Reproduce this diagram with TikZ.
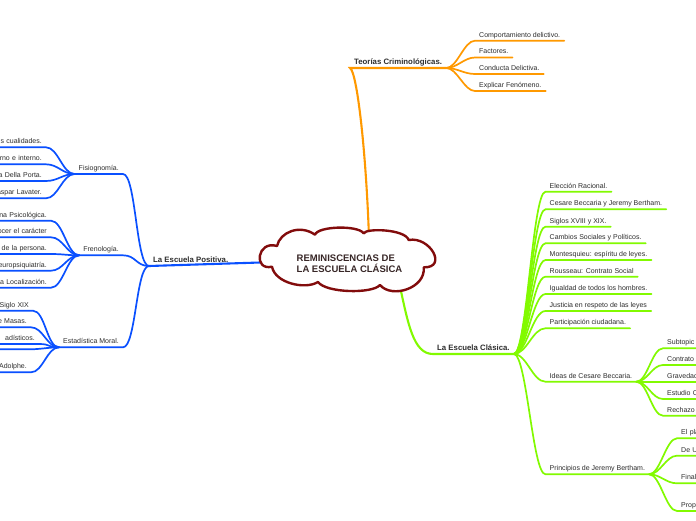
\documentclass[tikz,border=0pt]{standalone}
\usepackage{fontspec}
\setmainfont{Liberation Sans}
\definecolor{cOr}{RGB}{255,153,0}
\definecolor{cBl}{RGB}{10,80,255}
\definecolor{cGr}{RGB}{130,250,0}
\definecolor{cCl}{RGB}{130,12,12}
\definecolor{cTx}{RGB}{45,45,45}
\definecolor{cCt}{RGB}{55,38,38}
\tikzset{
  lbl/.style={font=\fontsize{7}{8}\selectfont, text=cTx, inner xsep=4pt, inner ysep=2pt, text height=5pt, text depth=1.5pt},
  mlbl/.style={font=\bfseries\fontsize{7.8}{9}\selectfont, text=cTx, inner xsep=4pt, inner ysep=2pt, text height=5.5pt, text depth=1.5pt},
  rt/.style={anchor=south west},
  lf/.style={anchor=south east},
  wr/.style={text width=#1, align=left},
  wl/.style={text width=#1, align=right},
  con/.style={line width=1.7pt, line cap=round},
  mcon/.style={line width=2.1pt, line cap=round},
  cloudline/.style={draw=cCl, line width=2.4pt, fill=white, line join=round},
}
\begin{document}
\begin{tikzpicture}[x=1pt,y=-1pt]
\clip (0,0) rectangle (696,520);
\fill[white] (0,0) rectangle (696,520);
\coordinate (cTop) at (369,238);
\coordinate (cLeft) at (276,262);
\coordinate (cBot) at (399,282);

% ---------- orange ----------
\node[mlbl,rt] (teo) at (350,68) {Teorías Criminológicas.};
\draw[cOr,mcon] (cTop) .. controls (366,150) and (357,72) .. (teo.south west) -- (teo.south east);
\node[lbl,rt] (o1) at (475,40.7) {Comportamiento delictivo.};
\node[lbl,rt] (o2) at (475,57.5) {Factores.};
\node[lbl,rt] (o3) at (475,74) {Conducta Delictiva.};
\node[lbl,rt] (o4) at (475,91) {Explicar Fenómeno.};
\foreach \c in {o1,o2,o3,o4}
  \draw[cOr,con] (teo.south east) .. controls +(11,0) and +(-11,0) .. (\c.south west) -- (\c.south east);

% ---------- green ----------
\node[mlbl,rt] (cla) at (433,354) {La Escuela Clásica.};
\draw[cGr,mcon] (cBot) .. controls +(9,41) and +(-20,0) .. (cla.south west) -- (cla.south east);
\node[lbl,rt] (g1) at (545.5,191.7) {Elección Racional.};
\node[lbl,rt] (g2) at (545.5,209.3) {Cesare Beccaria y Jeremy Bertham.};
\node[lbl,rt] (g3) at (545.5,226.7) {Siglos XVIII y XIX.};
\node[lbl,rt] (g4) at (545.5,243.3) {Cambios Sociales y Políticos.};
\node[lbl,rt] (g5) at (545.5,260) {Montesquieu: espíritu de leyes.};
\node[lbl,rt] (g6) at (545.5,276.7) {Rousseau: Contrato Social};
\node[lbl,rt] (g7) at (545.5,294) {Igualdad de todos los hombres.};
\node[lbl,rt] (g8) at (545.5,311) {Justicia en respeto de las leyes};
\node[lbl,rt] (g9) at (545.5,328.3) {Participación ciudadana.};
\node[lbl,rt] (ideas) at (545.5,381.7) {Ideas de Cesare Beccaria.};
\node[lbl,rt] (princ) at (545.5,474.3) {Principios de Jeremy Bertham.};
\foreach \c in {g1,g2,g3,g4,g5,g6,g7,g8,g9,ideas,princ}
  \draw[cGr,con] (cla.south east) .. controls +(13,0) and +(-13,0) .. (\c.south west) -- (\c.south east);

\node[lbl,rt,wr=40pt] (i1) at (663,348.3) {Subtopic};
\node[lbl,rt,wr=40pt] (i2) at (663,365) {Contrato};
\node[lbl,rt,wr=40pt] (i3) at (663,381.7) {Gravedad};
\node[lbl,rt,wr=40pt] (i4) at (663,399) {Estudio C};
\node[lbl,rt,wr=40pt] (i5) at (663,415.7) {Rechazo};
\foreach \c in {i1,i2,i3,i4,i5}
  \draw[cGr,con] (ideas.south east) .. controls +(11,0) and +(-11,0) .. (\c.south west) -- (\c.south east);

\node[lbl,rt,wr=30pt] (p1) at (677,438.3) {El pla};
\node[lbl,rt,wr=30pt] (p2) at (677,455.7) {De U};
\node[lbl,rt,wr=30pt] (p3) at (677,483.3) {Final};
\node[lbl,rt,wr=30pt] (p4) at (677,511) {Prop};
\foreach \c in {p1,p2,p3,p4}
  \draw[cGr,con] (princ.south east) .. controls +(11,0) and +(-11,0) .. (\c.south west) -- (\c.south east);

% ---------- blue ----------
\node[mlbl,rt] (pos) at (149,266) {La Escuela Positiva.};
\draw[cBl,mcon] (pos.south west) -- (cLeft);
\node[lbl,lf] (fis) at (123,174) {Fisiognomía.};
\node[lbl,lf] (fre) at (123,255.3) {Frenología.};
\node[lbl,lf] (est) at (123,347.3) {Estadística Moral.};
\foreach \c in {fis,fre,est}
  \draw[cBl,con] (pos.south west) .. controls +(-13,0) and +(13,0) .. (\c.south east) -- (\c.south west);

\node[lbl,lf,wl=80pt] (f1) at (46,147.3) {s cualidades.};
\node[lbl,lf,wl=80pt] (f2) at (46,164.3) {erno e interno.};
\node[lbl,lf,wl=80pt] (f3) at (46,181) {a Della Porta.};
\node[lbl,lf,wl=80pt] (f4) at (46,198.3) {aspar Lavater.};
\foreach \c in {f1,f2,f3,f4}
  \draw[cBl,con] (fis.south west) .. controls +(-12,0) and +(12,0) .. (\c.south east) -- (\c.south west);

\node[lbl,lf,wl=80pt] (r1) at (51,220.7) {na Psicológica.};
\node[lbl,lf,wl=80pt] (r2) at (51,237.3) {ocer el carácter};
\node[lbl,lf,wl=80pt] (r3) at (51,254) {s de la persona.};
\node[lbl,lf,wl=80pt] (r4) at (51,270.7) {europsiquiatría.};
\node[lbl,lf,wl=80pt] (r5) at (51,287.7) {a Localización.};
\foreach \c in {r1,r2,r3,r4,r5}
  \draw[cBl,con] (fre.south west) .. controls +(-12,0) and +(12,0) .. (\c.south east) -- (\c.south west);

\node[lbl,lf,wl=80pt] (e1) at (33,310.7) {Siglo XIX};
\node[lbl,lf,wl=80pt] (e2) at (31,327.3) {e Masas.};
\node[lbl,lf,wl=80pt] (e3) at (39,344) {adísticos.};
\node[lbl,lf,wl=80pt] (e5) at (31,372.3) {Adolphe.};
\coordinate (e4) at (30,349.3);
\coordinate (e4w) at (-5,349.3);
\foreach \c in {e1,e2,e3,e5}
  \draw[cBl,con] (est.south west) .. controls +(-12,0) and +(12,0) .. (\c.south east) -- (\c.south west);
\draw[cBl,con] (est.south west) .. controls +(-10,0) and +(10,0) .. (e4) -- (e4w);

% ---------- central cloud ----------
\path[cloudline] (277,246)
  .. controls (280,232) and (300,224) .. (315,234.7)
  .. controls (318,226) and (358,225) .. (363.7,233.3)
  .. controls (366,228) and (405,229) .. (408.7,240)
  .. controls (430,236) and (448,268) .. (423.7,267.3)
  .. controls (426,288) and (392,299) .. (380,285)
  .. controls (372,294) and (326,293) .. (318,282)
  .. controls (305,290) and (275,283) .. (272,266.7)
  .. controls (253,271) and (257,240) .. cycle;
\node[font=\bfseries\fontsize{9.5}{11}\selectfont, text=cCt, align=left, anchor=west, inner sep=0pt]
      (ctext) at (296.5,264) {REMINISCENCIAS DE\\LA ESCUELA CLÁSICA};
\end{tikzpicture}
\end{document}
